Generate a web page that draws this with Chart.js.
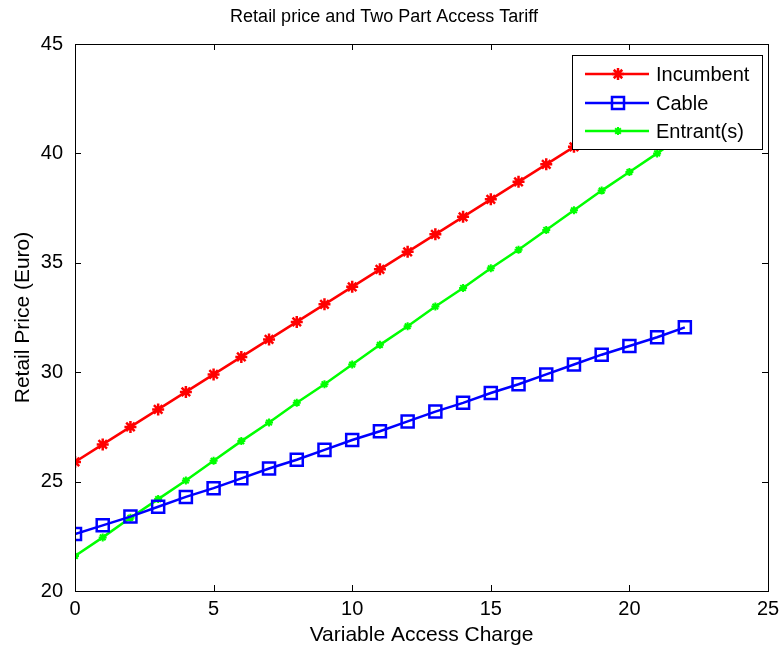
<!DOCTYPE html>
<html>
<head>
<meta charset="utf-8">
<script src="https://cdn.jsdelivr.net/npm/chart.js@4/dist/chart.umd.min.js"></script>
<style>
  html, body { margin: 0; padding: 0; background: #fff; }
  #wrap { width: 784px; height: 648px; }
</style>
</head>
<body>
<div id="wrap"><canvas id="c" width="784" height="648"></canvas></div>
<script>
// Variable access charge (x) and retail prices (Euro) for each operator
const charges = [0,1,2,3,4,5,6,7,8,9,10,11,12,13,14,15,16,17,18,19,20,21,22];
const incumbent = [25.9,26.7,27.5,28.3,29.1,29.9,30.7,31.5,32.3,33.1,33.9,34.7,35.5,36.3,37.1,37.9,38.7,39.5,40.3,41.1,41.9,42.7,43.5];
const cable = [22.6,23.0,23.4,23.85,24.3,24.7,25.15,25.6,26.0,26.45,26.9,27.3,27.75,28.2,28.6,29.05,29.45,29.9,30.35,30.8,31.2,31.6,32.05];
const entrants = [21.6,22.45,23.35,24.2,25.05,25.95,26.85,27.7,28.6,29.45,30.35,31.25,32.1,33.0,33.85,34.75,35.6,36.5,37.4,38.3,39.15,40.0,40.9];
const xTicks = [0,5,10,15,20,25];
const yTicks = [20,25,30,35,40,45];

const FONT = "'Liberation Sans', Arial, sans-serif";

const toPts = (ys) => charges.map((x, i) => ({ x: x, y: ys[i] }));

// Axes box with inward ticks on all four sides, plus a boxed legend
const framePlugin = {
  id: 'frame',
  afterDatasetsDraw(chart) {
    const { ctx, chartArea: a, scales } = chart;
    ctx.save();
    ctx.strokeStyle = '#000';
    ctx.lineWidth = 1;
    ctx.strokeRect(Math.round(a.left) + 0.5, Math.round(a.top) + 0.5,
                   Math.round(a.right - a.left), Math.round(a.bottom - a.top));
    const len = 6;
    ctx.beginPath();
    xTicks.forEach(v => {
      const px = Math.round(scales.x.getPixelForValue(v)) + 0.5;
      ctx.moveTo(px, a.bottom); ctx.lineTo(px, a.bottom - len);
      ctx.moveTo(px, a.top); ctx.lineTo(px, a.top + len);
    });
    yTicks.forEach(v => {
      const py = Math.round(scales.y.getPixelForValue(v)) + 0.5;
      ctx.moveTo(a.left, py); ctx.lineTo(a.left + len, py);
      ctx.moveTo(a.right, py); ctx.lineTo(a.right - len, py);
    });
    ctx.stroke();

    // legend box
    const bx = 572, by = 55, bw = 190, bh = 94;
    ctx.fillStyle = '#fff';
    ctx.fillRect(bx, by, bw, bh);
    ctx.strokeRect(bx + 0.5, by + 0.5, bw, bh);
    const rows = [74, 103, 131];
    chart.data.datasets.forEach((ds, i) => {
      const y = rows[i];
      ctx.strokeStyle = ds.borderColor;
      ctx.lineWidth = 2.5;
      ctx.beginPath();
      ctx.moveTo(585, y); ctx.lineTo(649, y);
      ctx.stroke();
      ctx.fillStyle = ds.pointBackgroundColor;
      ctx.strokeStyle = ds.pointBorderColor;
      ctx.lineWidth = ds.pointBorderWidth;
      Chart.helpers.drawPoint(ctx, {
        pointStyle: ds.pointStyle,
        radius: ds.pointRadius,
        borderWidth: ds.pointBorderWidth,
        rotation: 0
      }, 618, y);
      ctx.fillStyle = '#000';
      ctx.font = '20px ' + FONT;
      ctx.textBaseline = 'middle';
      ctx.textAlign = 'left';
      ctx.fillText(ds.label, 656, y + 1);
    });
    ctx.restore();
  }
};

new Chart(document.getElementById('c'), {
  type: 'line',
  data: {
    datasets: [
      {
        label: 'Incumbent', data: toPts(incumbent),
        borderColor: '#ff0000', backgroundColor: '#ff0000',
        borderWidth: 2.5, pointStyle: 'star', pointRadius: 6, pointBorderWidth: 2.5,
        pointBorderColor: '#ff0000', pointBackgroundColor: '#ff0000'
      },
      {
        label: 'Cable', data: toPts(cable),
        borderColor: '#0000ff', backgroundColor: 'rgba(0,0,0,0)',
        borderWidth: 2.5, pointStyle: 'rect', pointRadius: 8.5, pointBorderWidth: 2.5,
        pointBorderColor: '#0000ff', pointBackgroundColor: 'rgba(0,0,0,0)'
      },
      {
        label: 'Entrant(s)', data: toPts(entrants),
        borderColor: '#00ff00', backgroundColor: '#00ff00',
        borderWidth: 2.5, pointStyle: 'star', pointRadius: 4, pointBorderWidth: 2,
        pointBorderColor: '#00ff00', pointBackgroundColor: '#00ff00'
      }
    ]
  },
  options: {
    responsive: false,
    animation: false,
    layout: { padding: { top: 0, right: 16, left: 0, bottom: 0 } },
    plugins: {
      legend: { display: false },
      tooltip: { enabled: false },
      title: {
        display: true,
        text: 'Retail price and Two Part Access Tariff',
        color: '#000',
        font: { family: FONT, size: 18, weight: 'normal' },
        padding: { top: 6, bottom: 16.4 }
      }
    },
    scales: {
      x: {
        type: 'linear', min: 0, max: 25,
        afterBuildTicks: (s) => { s.ticks = xTicks.map(v => ({ value: v })); },
        afterFit: (s) => { s.height = 57; },
        grid: { display: false }, border: { display: false },
        ticks: { color: '#000', font: { family: FONT, size: 20 }, padding: -2, maxRotation: 0 },
        title: { display: true, text: 'Variable Access Charge', color: '#000',
                 font: { family: FONT, size: 21 }, padding: { top: 0, bottom: 0 } }
      },
      y: {
        type: 'linear', min: 20, max: 45,
        afterBuildTicks: (s) => { s.ticks = yTicks.map(v => ({ value: v })); },
        afterFit: (s) => { s.width = 75; },
        grid: { display: false }, border: { display: false },
        ticks: { color: '#000', font: { family: FONT, size: 20 }, padding: 4 },
        title: { display: true, text: 'Retail Price (Euro)', color: '#000',
                 font: { family: FONT, size: 21 }, padding: { top: 11, bottom: 0 } }
      }
    }
  },
  plugins: [framePlugin]
});
</script>
</body>
</html>
